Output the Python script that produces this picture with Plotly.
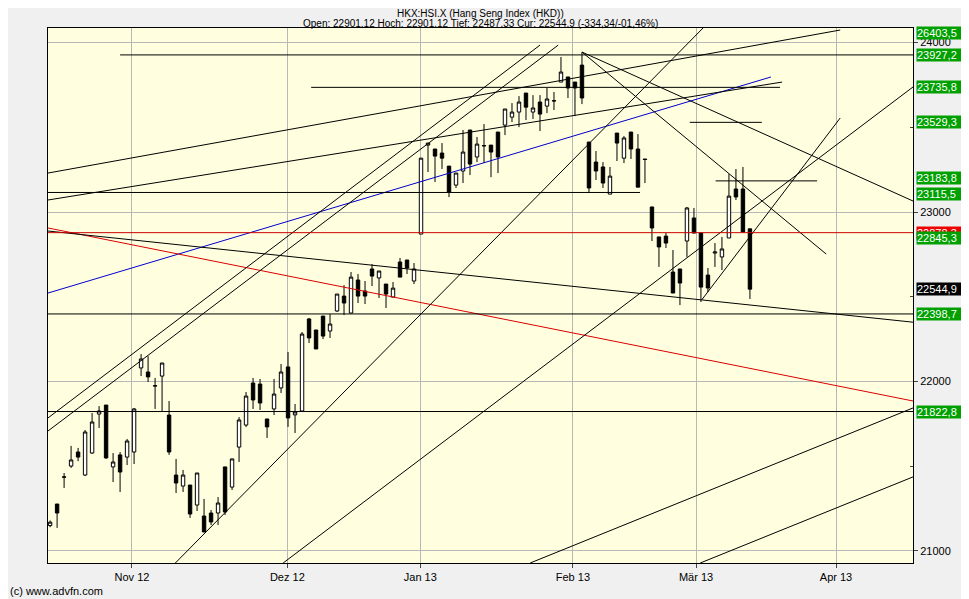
import plotly.graph_objects as go

opens = [21150,21277,21435,21501,21584,21448,21578,21808,21861,21496,21567,21554,21584,22080,22056,21973,22032,21802,21448,21383,21389,21271,21206,21224,21224,21496,21377,21613,21743,21991,21985,21779,21838,21962,22086,21803,21826,22369,22304,22386,22298,22416,22504,22404,22599,22534,22664,22611,22575,22498,22705,22717,22593,22870,23395,23372,23348,23271,23159,23242,23484,23325,23390,23395,23472,23513,23560,23590,23702,23590,23649,23625,23655,23767,23797,23767,23867,23413,23295,23266,23106,23466,23318,23472,23372,23313,23030,22853,22858,22646,22664,22829,22965,22876,22628,22758,22735,22847,23136,23136,22901]
highs = [21180,21277,21460,21620,21608,21714,21814,21855,21861,21578,21584,21661,21844,22162,22150,22021,22109,21885,21543,21478,21389,21460,21307,21242,21318,21496,21545,21790,21938,22021,22015,21779,22015,22103,22174,21867,22292,22375,22304,22386,22398,22516,22569,22646,22634,22593,22693,22652,22575,22587,22729,22717,22699,23318,23407,23372,23407,23271,23230,23484,23484,23443,23519,23395,23472,23608,23643,23684,23702,23690,23690,23732,23708,23915,23797,23767,23944,23413,23360,23295,23266,23466,23448,23472,23460,23313,23030,22853,22876,22776,22664,23030,23024,22876,22670,22817,22853,23224,23254,23266,22901]
lows = [21140,21136,21372,21490,21530,21442,21572,21726,21543,21407,21348,21507,21513,22032,21997,21838,21820,21567,21342,21348,21195,21236,21112,21153,21153,21212,21360,21525,21731,21838,21832,21667,21802,21932,21732,21696,21820,22227,22192,22250,22257,22410,22392,22404,22463,22457,22563,22493,22434,22498,22616,22634,22575,22870,23236,23177,23254,23088,23142,23171,23218,23295,23289,23206,23230,23454,23531,23501,23543,23549,23478,23584,23602,23767,23673,23566,23637,23112,23189,23142,23106,23301,23289,23313,23147,23171,22829,22676,22788,22522,22451,22735,22876,22469,22528,22676,22658,22847,23071,22882,22487]
closes = [21170,21224,21437,21537,21554,21702,21761,21826,21549,21525,21466,21649,21838,22133,22027,21975,22109,21584,21401,21448,21218,21460,21112,21171,21283,21230,21543,21773,21914,21891,21873,21732,21926,22056,21785,21820,22280,22257,22192,22268,22339,22516,22463,22616,22504,22504,22622,22652,22516,22551,22616,22670,22664,23318,23407,23330,23318,23118,23230,23354,23283,23401,23392,23354,23325,23608,23590,23649,23619,23614,23578,23667,23657,23826,23732,23732,23673,23142,23242,23171,23212,23407,23437,23372,23147,23310,22906,22794,22817,22522,22581,23024,22876,22557,22552,22764,22782,23094,23089,22882,22545]
idx = list(range(len(opens)))

month_pos = [11.7, 33.9, 52.9, 74.7, 92.3, 112.3]
month_labels = ["Nov 12", "Dez 12", "Jan 13", "Feb 13", "Mär 13", "Apr 13"]

# trend lines: (x0, y0, x1, y1, color)
trend_lines = [
    (-0.3, 22522, 103, 23797, "#0000cc"),
    (-0.3, 22906, 123.3, 21885, "#dd0000"),
    (-0.3, 22888, 123.3, 22350, "black"),
    (-0.3, 21785, 70, 23985, "black"),
    (-0.3, 21708, 72.6, 23985, "black"),
    (-0.3, 23230, 112.9, 24074, "black"),
    (-0.3, 23071, 104.6, 23767, "black"),
    (17.9, 20929, 93.3, 24086, "black"),
    (33.3, 20929, 123.3, 23738, "black"),
    (76, 23944, 110.9, 22752, "black"),
    (76, 23944, 123.3, 23065, "black"),
    (93.1, 22481, 112.9, 23555, "black"),
    (68.6, 20929, 123.3, 21844, "black"),
    (92.9, 20929, 123.3, 21437, "black"),
]
# horizontal levels: (x0, x1, value, color)
levels = [
    (10, 123.3, 23927.2, "black"),
    (37.3, 104.3, 23735.8, "black"),
    (91.4, 101.7, 23529.3, "black"),
    (95.1, 109.6, 23183.8, "black"),
    (-0.3, 84.3, 23115.5, "black"),
    (-0.3, 123.3, 22878.3, "#cc0000"),
    (-0.3, 123.3, 22398.7, "black"),
    (-0.3, 123.3, 21822.8, "black"),
]
# right labels: (value, text, bg)
labels = [
    (24054, "26403,5", "#00a000"),
    (23927.2, "23927,2", "#00a000"),
    (23735.8, "23735,8", "#00a000"),
    (23529.3, "23529,3", "#00a000"),
    (23200, "23183,8", "#00a000"),
    (23105, "23115,5", "#00a000"),
    (22878.3, "22878,3", "#ee0000"),
    (22845.3, "22845,3", "#00a000"),
    (22544.9, "22544,9", "black"),
    (22398.7, "22398,7", "#00a000"),
    (21822.8, "21822,8", "#00a000"),
]

fig = go.Figure()
for x0, y0, x1, y1, c in trend_lines:
    fig.add_trace(go.Scatter(x=[x0, x1], y=[y0, y1], mode="lines",
                             line=dict(color=c, width=1), hoverinfo="skip", showlegend=False))
for x0, x1, v, c in levels:
    fig.add_trace(go.Scatter(x=[x0, x1], y=[v, v], mode="lines",
                             line=dict(color=c, width=1), hoverinfo="skip", showlegend=False))
fig.add_trace(go.Candlestick(x=idx, open=opens, high=highs, low=lows, close=closes,
    increasing=dict(fillcolor="white", line=dict(color="black", width=1)),
    decreasing=dict(fillcolor="black", line=dict(color="black", width=1)),
    whiskerwidth=0, showlegend=False))

for v, t, bg in labels:
    fig.add_annotation(xref="paper", x=1.004, y=v, yref="y", text=t, showarrow=False,
                       xanchor="left", bgcolor=bg, font=dict(color="white", size=11, family="Liberation Sans, Arial"),
                       borderpad=0, width=54, align="left")

fig.add_annotation(xref="paper", yref="paper", x=0.5, y=1.028, xanchor="center", yanchor="middle",
                   text="HKX:HSI.X (Hang Seng Index (HKD))", showarrow=False, font=dict(size=10))
fig.add_annotation(xref="paper", yref="paper", x=0.5, y=1.0075, xanchor="center", yanchor="middle",
                   text="Open: 22901.12 Hoch: 22901.12 Tief: 22487.33 Cur: 22544.9 (-334,34/-01,46%)",
                   showarrow=False, font=dict(size=10))
fig.add_annotation(xref="paper", yref="paper", x=-0.046, y=-0.053, xanchor="left", yanchor="middle",
                   text="(c) www.advfn.com", showarrow=False, font=dict(size=11))

fig.update_layout(
    width=961, height=591,
    margin=dict(l=40, r=56, t=20, b=36),
    paper_bgcolor="#f0f0f0", plot_bgcolor="#ffffe0",
    font=dict(family="Liberation Sans, Arial", size=11, color="black"),
    xaxis=dict(range=[-0.3, 123.3], tickvals=month_pos, ticktext=month_labels, showgrid=True,
               gridcolor="#b8b8b8", rangeslider=dict(visible=False), showline=True, linecolor="black",
               mirror=True, ticks="outside", ticklen=4, zeroline=False),
    yaxis=dict(range=[20929, 24086], side="right", tickvals=[21000, 22000, 23000, 24000],
               tickformat="d", showgrid=True, gridcolor="#b8b8b8", showline=True, linecolor="black",
               mirror=True, ticks="outside", ticklen=4, zeroline=False,
               minor=dict(tickvals=[21500, 22500, 23500], ticks="inside", ticklen=3, showgrid=False)),
)
fig.write_html("out.html")
